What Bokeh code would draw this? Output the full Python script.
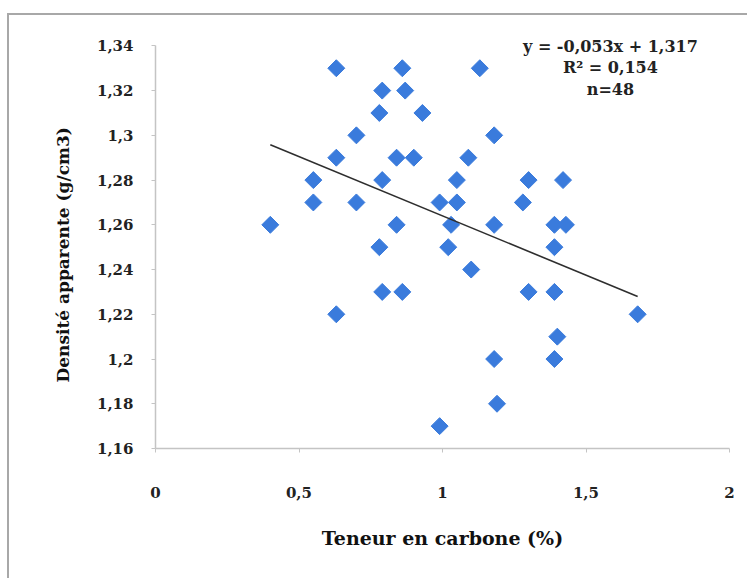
from bokeh.plotting import figure
from bokeh.models import FixedTicker, Range1d, Label, Title
from bokeh.embed import file_html
from bokeh.resources import INLINE

# ---- data ----
carbone = [0.40, 0.55, 0.55, 0.63, 0.63, 0.63, 0.70, 0.70, 0.78, 0.79,
           0.79, 0.78, 0.79, 0.84, 0.86, 0.87, 0.84, 0.90, 0.93, 0.86,
           0.99, 1.02, 1.13, 1.18, 1.09, 1.05, 1.30, 1.42, 0.99, 1.05,
           1.28, 1.03, 1.18, 1.39, 1.43, 1.39, 1.10, 1.30, 1.39, 1.68,
           1.40, 1.18, 1.39, 1.19]
densite = [1.26, 1.28, 1.27, 1.33, 1.29, 1.22, 1.30, 1.27, 1.31, 1.32,
           1.28, 1.25, 1.23, 1.26, 1.33, 1.32, 1.29, 1.29, 1.31, 1.23,
           1.17, 1.25, 1.33, 1.30, 1.29, 1.28, 1.28, 1.28, 1.27, 1.27,
           1.27, 1.26, 1.26, 1.26, 1.26, 1.25, 1.24, 1.23, 1.23, 1.22,
           1.21, 1.20, 1.20, 1.18]
slope = -0.053
intercept = 1.317
x_ticks = [0, 0.5, 1, 1.5, 2]
x_tick_labels = ["0", "0,5", "1", "1,5", "2"]
y_ticks = [1.16, 1.18, 1.20, 1.22, 1.24, 1.26, 1.28, 1.30, 1.32, 1.34]
y_tick_labels = ["1,16", "1,18", "1,2", "1,22", "1,24", "1,26", "1,28", "1,3", "1,32", "1,34"]
annotation_lines = ["y = -0,053x + 1,317", "R\u00b2 = 0,154", "n=48"]
x_title = "Teneur en carbone (%)"
y_title = "Densité apparente (g/cm3)"

FONT = "DejaVu Serif"

W, H = 740, 565
p = figure(width=W, height=H, output_backend="svg", toolbar_location=None,
           x_range=Range1d(0, 2), y_range=Range1d(1.16, 1.35),
           min_border_left=146, min_border_right=W - 720,
           min_border_top=8, min_border_bottom=H - 433,
           background_fill_color="white", border_fill_color="white",
           outline_line_color=None)
p.styles = {"margin-left": "7px", "margin-top": "13px",
            "border-top": "2px solid #a8a8a8", "border-left": "2px solid #a8a8a8"}
p.grid.visible = False

for ax in (p.xaxis[0], p.yaxis[0]):
    ax.axis_line_color = "#c4c4c4"
    ax.axis_line_width = 1.5
    ax.major_tick_line_color = "#c4c4c4"
    ax.minor_tick_line_color = None
    ax.major_tick_in = 0
    ax.major_tick_out = 4
    ax.major_label_text_font = FONT
    ax.major_label_text_font_style = "bold"
    ax.major_label_text_font_size = "15px"
    ax.major_label_text_color = "#222222"
    ax.axis_label_text_font = FONT
    ax.axis_label_text_font_style = "bold"
    ax.axis_label_text_color = "#111111"

p.yaxis.bounds = (1.16, 1.34)
p.xaxis.ticker = FixedTicker(ticks=x_ticks)
p.xaxis.major_label_overrides = {t: l for t, l in zip(x_ticks, x_tick_labels)}
p.yaxis.ticker = FixedTicker(ticks=y_ticks)
p.yaxis.major_label_overrides = {t: l for t, l in zip(y_ticks, y_tick_labels)}
p.xaxis.major_label_standoff = 34
p.yaxis.major_label_standoff = 18
p.xaxis.axis_label = x_title
p.xaxis.axis_label_text_font_size = "19px"
p.xaxis.axis_label_standoff = 26

p.add_layout(Title(text=y_title, align="left", offset=66, standoff=41,
                   text_font=FONT, text_font_style="bold",
                   text_font_size="17px", text_color="#111111"), "left")

p.scatter(carbone, densite, marker="square", angle=0.785398, size=12,
          fill_color="#3a7bdc", line_color="#3a7bdc")

xl = [min(carbone), max(carbone)]
yl = [slope * v + intercept for v in xl]
p.line(xl, yl, line_color="#2e2e2e", line_width=1.6)

ys = [1.3398, 1.3302, 1.3204]
for txt, yy in zip(annotation_lines, ys):
    p.add_layout(Label(x=1.585, y=yy, text=txt, text_align="center",
                       text_baseline="middle", text_font=FONT,
                       text_font_style="bold", text_font_size="16px",
                       text_color="#222222"))

open("out.html", "w").write(file_html(p, INLINE))
